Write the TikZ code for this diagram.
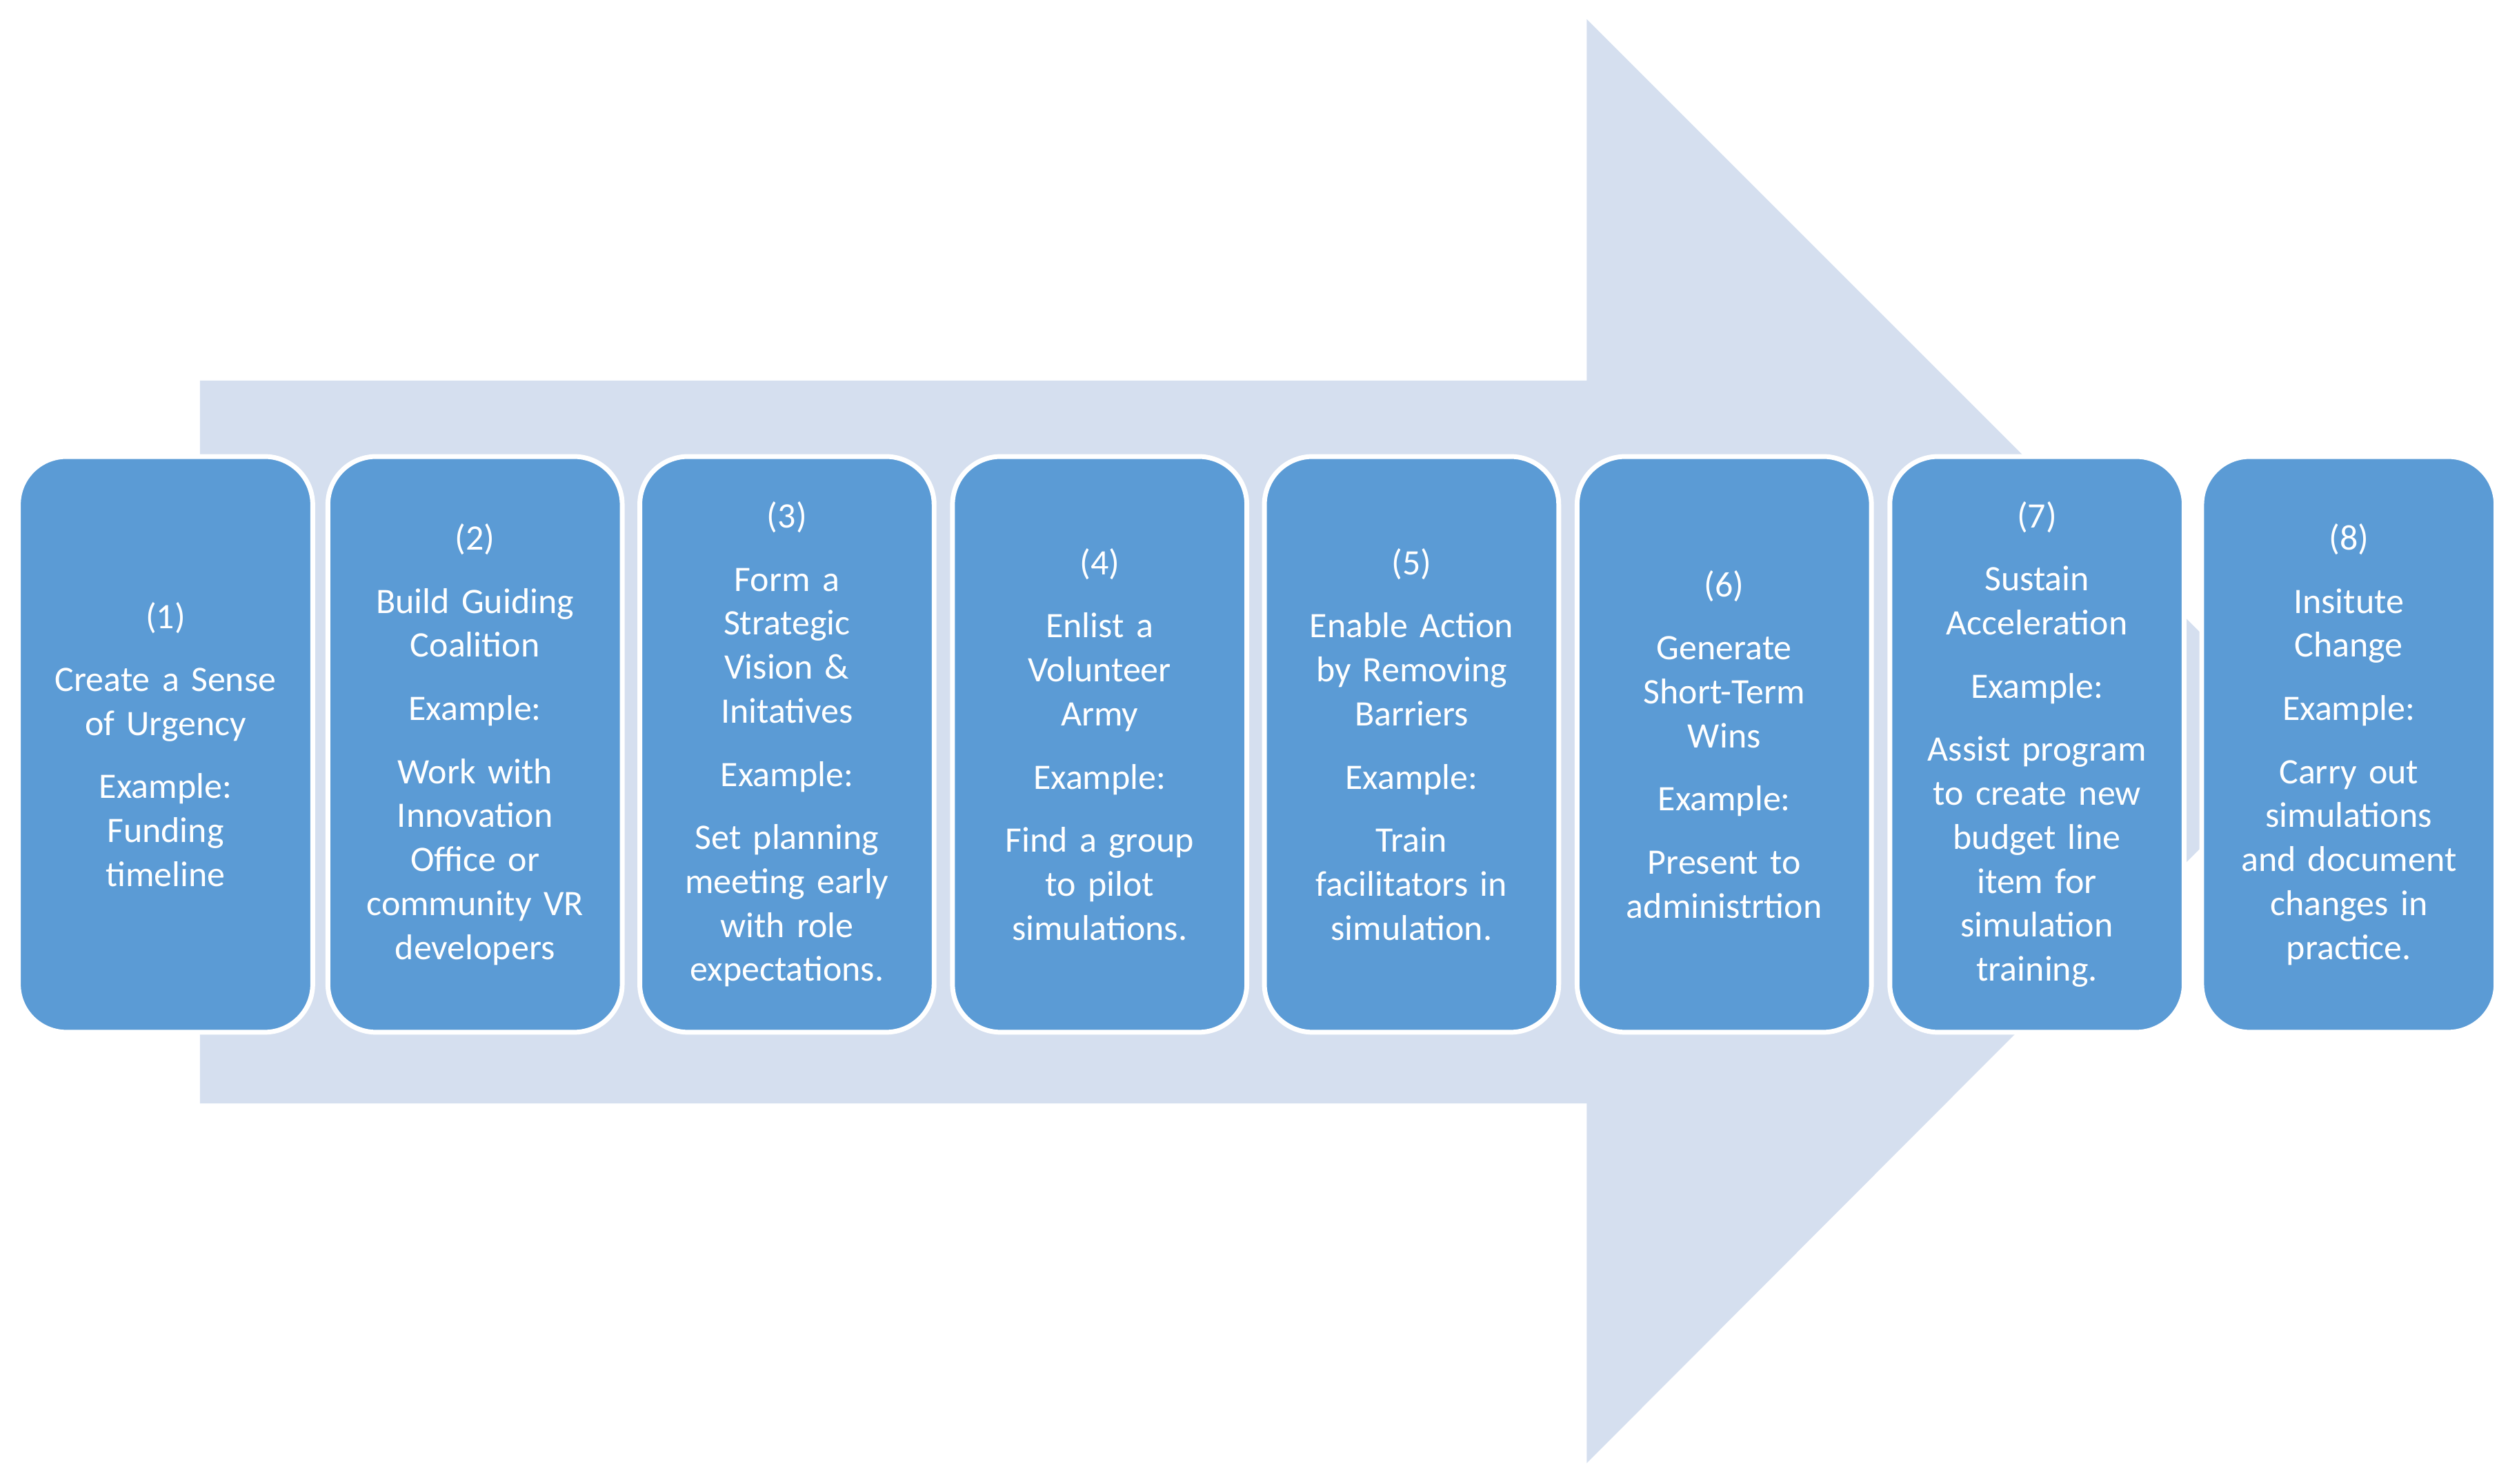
\documentclass[tikz,border=0pt]{standalone}
\usepackage{fontspec}
\setmainfont{Carlito}
\definecolor{arrowc}{HTML}{D5DFEF}
\definecolor{boxc}{HTML}{5B9BD5}
\begin{document}
\begin{tikzpicture}[x=0.5pt,y=-0.5pt,
  stepbox/.style={draw=white,line width=1.5pt,fill=boxc,rounded corners=15pt,
    minimum width=92pt,minimum height=180pt,text=white,align=center,
    font=\fontsize{11.2}{13.75}\selectfont,inner sep=1pt,text width=88pt}]
\useasboundingbox (0,0) rectangle (1568,928);
\fill[arrowc] (125,238) -- (992,238) -- (992,12) -- (1443,463) -- (992,915) -- (992,690) -- (125,690) -- cycle;
\def\P{\\[6pt]}
\node[stepbox] (b1) at (103.5,465.5) {(1)\P Create a Sense\\of Urgency\P Example:\\Funding\\timeline};
\node[stepbox] (b2) at (297,465.5) {(2)\P Build Guiding\\Coalition\P Example:\P Work with\\Innovation\\Office or\\community VR\\developers};
\node[stepbox] (b3) at (492,465.5) {(3)\P Form a\\Strategic\\Vision \&\\Initatives\P Example:\P Set planning\\meeting early\\with role\\expectations.};
\node[stepbox] (b4) at (687.5,465.5) {(4)\P Enlist a\\Volunteer\\Army\P Example:\P Find a group\\to pilot\\simulations.};
\node[stepbox] (b5) at (882.5,465.5) {(5)\P Enable Action\\by Removing\\Barriers\P Example:\P Train\\facilitators in\\simulation.};
\node[stepbox] (b6) at (1078,465.5) {(6)\P Generate\\Short-Term\\Wins\P Example:\P Present to\\administrtion};
\node[stepbox] (b7) at (1273.5,465.5) {(7)\P Sustain\\Acceleration\P Example:\P Assist program\\to create new\\budget line\\item for\\simulation\\training.};
\node[stepbox] (b8) at (1468.5,465.5) {(8)\P Insitute\\Change\P Example:\P Carry out\\simulations\\and document\\changes in\\practice.};
\end{tikzpicture}
\end{document}
